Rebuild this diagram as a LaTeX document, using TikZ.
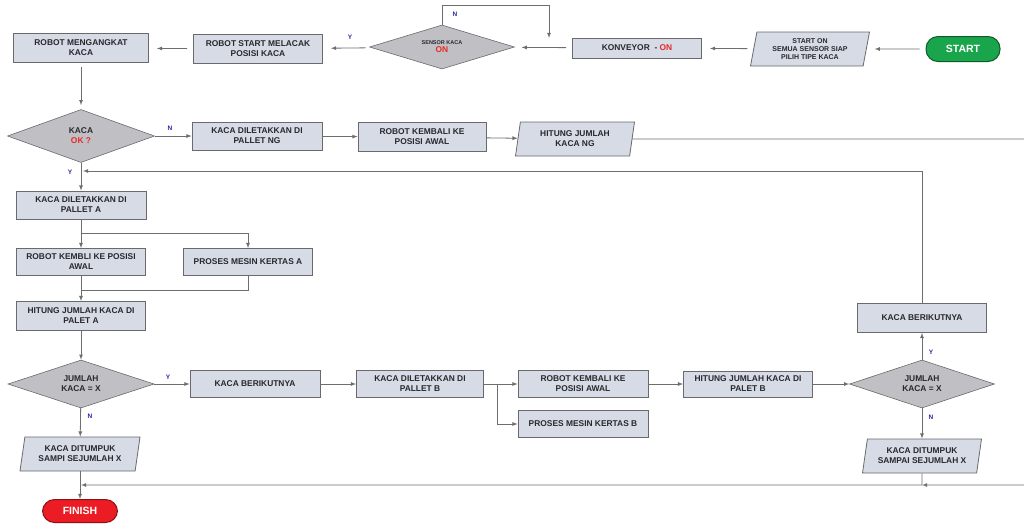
\documentclass[tikz,border=0pt]{standalone}
\usepackage{fontspec}
\setmainfont{Liberation Sans}
\usetikzlibrary{arrows,shapes.geometric}

\definecolor{boxfill}{RGB}{214,219,230}
\definecolor{boxline}{RGB}{105,105,110}
\definecolor{diafill}{RGB}{192,192,196}
\definecolor{lnc}{RGB}{110,110,110}
\definecolor{startgreen}{RGB}{25,165,75}
\definecolor{finishred}{RGB}{235,28,36}
\definecolor{onred}{RGB}{232,40,40}
\definecolor{ynblue}{RGB}{40,40,160}
\definecolor{txt}{RGB}{40,40,45}

\tikzset{
	box/.style={draw=boxline,fill=boxfill,line width=0.8pt,inner sep=0pt,align=center,text=txt,font=\fontsize{8.4}{10}\selectfont\bfseries},
	dec/.style={diamond,aspect=3,draw=boxline,fill=diafill,line width=0.6pt,inner sep=0pt,align=center,text=txt,font=\fontsize{8.4}{10}\selectfont\bfseries},
	io/.style={trapezium,trapezium left angle=73,trapezium right angle=107,trapezium stretches body,draw=boxline,fill=boxfill,line width=0.8pt,inner sep=0pt,align=center,text=txt,font=\fontsize{8.4}{10}\selectfont\bfseries},
	pill/.style={rounded corners=12pt,line width=1pt,inner sep=0pt,text=white,font=\fontsize{10.5}{12}\selectfont\bfseries},
	arr/.style={draw=lnc,line width=0.8pt,-latex},
	ln/.style={draw=lnc,line width=0.8pt},
	gap/.style={shorten <=6pt,shorten >=8pt},
	yn/.style={text=ynblue,inner sep=0pt,font=\fontsize{6.5}{7}\selectfont\bfseries}
}

\begin{document}
\begin{tikzpicture}[x=1pt,y=-1pt]
		\useasboundingbox (0,0) rectangle (1024,523);
		% top row, right to left
		\node[pill,fill=startgreen,draw=startgreen!55!black,minimum width=74pt,minimum height=25pt] (start) at (963,49) {START};
		\node[io,minimum width=119pt,minimum height=34pt,font=\fontsize{7}{8}\selectfont\bfseries] (siap) at (810,49) {START ON\\SEMUA SENSOR SIAP\\PILIH TIPE KACA};
		\node[box,minimum width=129pt,minimum height=20pt] (konveyor) at (637,48) {KONVEYOR \ - \textcolor{onred}{ON}};
		\node[dec,minimum width=145pt,minimum height=44pt,font=\fontsize{5.5}{8}\selectfont\bfseries] (sensor) at (442,47) {SENSOR KACA\\{\fontsize{8.4}{10}\selectfont\color{onred}ON}};
		\node[box,minimum width=129pt,minimum height=29pt] (melacak) at (258,49) {ROBOT START MELACAK\\POSISI KACA};
		\node[box,minimum width=135pt,minimum height=29pt] (angkat) at (81,48) {ROBOT MENGANGKAT\\KACA};
		% pallet NG row
		\node[dec,minimum width=147pt,minimum height=53pt] (cekok) at (81,136) {KACA\\\textcolor{onred}{OK ?}};
		\node[box,minimum width=130pt,minimum height=28pt] (ng) at (257,136) {KACA DILETAKKAN DI\\PALLET NG};
		\node[box,minimum width=128pt,minimum height=29pt] (kembaling) at (422,137) {ROBOT KEMBALI KE\\POSISI AWAL};
		\node[io,minimum width=119pt,minimum height=34pt] (hitungng) at (575,139) {HITUNG JUMLAH\\KACA NG};
		% pallet A column
		\node[box,minimum width=130pt,minimum height=28pt] (palleta) at (81,205) {KACA DILETAKKAN DI\\PALLET A};
		\node[box,minimum width=129pt,minimum height=27pt] (kembalia) at (81,262) {ROBOT KEMBLI KE POSISI\\AWAL};
		\node[box,minimum width=129pt,minimum height=27pt] (kertasa) at (248,262) {PROSES MESIN KERTAS A};
		\node[box,minimum width=129pt,minimum height=29pt] (hitunga) at (81,316) {HITUNG JUMLAH KACA DI\\PALET A};
		\node[dec,minimum width=146pt,minimum height=48pt] (jumlaha) at (81,384) {JUMLAH\\KACA = X};
		\node[io,minimum width=120pt,minimum height=34pt] (tumpuka) at (80,454) {KACA DITUMPUK\\SAMPI SEJUMLAH X};
		\node[pill,fill=finishred,draw=finishred!60!black,minimum width=75pt,minimum height=23pt] (finish) at (80,511) {FINISH};
		% pallet B row
		\node[box,minimum width=130pt,minimum height=27pt] (berikuta) at (255,384) {KACA BERIKUTNYA};
		\node[box,minimum width=127pt,minimum height=27pt] (palletb) at (420,384) {KACA DILETAKKAN DI\\PALLET B};
		\node[box,minimum width=130pt,minimum height=27pt] (kembalib) at (583,384) {ROBOT KEMBALI KE\\POSISI AWAL};
		\node[box,minimum width=130pt,minimum height=27pt] (kertasb) at (583,424) {PROSES MESIN KERTAS B};
		\node[box,minimum width=129pt,minimum height=26pt] (hitungb) at (748,384) {HITUNG JUMLAH KACA DI\\PALET B};
		\node[dec,minimum width=145pt,minimum height=48pt] (jumlahb) at (922,384) {JUMLAH\\KACA = X};
		\node[box,minimum width=129pt,minimum height=29pt] (berikutb) at (922,318) {KACA BERIKUTNYA};
		\node[io,minimum width=119pt,minimum height=34pt] (tumpukb) at (922,456) {KACA DITUMPUK\\SAMPAI SEJUMLAH X};

		% free ends and bends
		\coordinate (nturn) at (549,5);
		\coordinate (nend) at (549,38);
		\coordinate (yjoin) at (83,171);
		\coordinate (splita) at (81,233);
		\coordinate (mergea) at (81,290);
		\coordinate (splitb) at (497,384);
		\coordinate (rtop) at (1040,139);
		\coordinate (rbot) at (1040,485);
		\coordinate (joinb) at (922,485);
		\coordinate (joina) at (81,485);

		% connectors
		\draw[arr,gap] (start) -- (siap);
		\draw[arr,gap] (siap) -- (konveyor);
		\draw[arr,gap] (konveyor) -- (sensor);
		\draw[arr,gap] (sensor) -- (melacak);
		\draw[arr,gap] (melacak) -- (angkat);
		\draw[arr] (sensor.north) |- (nturn) -- (nend);
		\draw[arr,shorten <=4pt,shorten >=4pt] (angkat) -- (cekok);
		\draw[arr] (cekok) -- (ng);
		\draw[arr] (ng) -- (kembaling);
		\draw[arr] (kembaling) -- (hitungng);
		\draw[arr] (hitungng.east) -- (rtop) -- (rbot) -- (joinb);
		\draw[arr] (cekok) -- (palleta);
		\draw[arr] (berikutb.north) |- (yjoin);
		\draw[arr] (palleta) -- (kembalia);
		\draw[arr] (splita) -| (kertasa.north);
		\draw[ln] (kembalia) -- (mergea);
		\draw[ln] (kertasa.south) |- (mergea);
		\draw[arr] (mergea) -- (hitunga);
		\draw[arr] (hitunga) -- (jumlaha);
		\draw[arr] (jumlaha) -- (berikuta);
		\draw[arr] (jumlaha) -- (tumpuka);
		\draw[arr] (berikuta) -- (palletb);
		\draw[arr] (palletb) -- (kembalib);
		\draw[arr] (splitb) |- (kertasb.west);
		\draw[arr] (kembalib) -- (hitungb);
		\draw[arr] (hitungb) -- (jumlahb);
		\draw[arr] (jumlahb) -- (berikutb);
		\draw[arr] (jumlahb) -- (tumpukb);
		\draw[arr] (tumpukb.south) -- (joinb) -- (joina);
		\draw[arr] (tumpuka) -- (finish);

		% Y / N marks
		\node[yn] (nsensor) at (455,14) {N};
		\node[yn] (ysensor) at (350,37) {Y};
		\node[yn] (ncekok) at (170,128) {N};
		\node[yn] (ycekok) at (70,172) {Y};
		\node[yn] (yjumlaha) at (168,377) {Y};
		\node[yn] (njumlaha) at (90,416) {N};
		\node[yn] (yjumlahb) at (931,352) {Y};
		\node[yn] (njumlahb) at (931,417) {N};
\end{tikzpicture}
\end{document}
